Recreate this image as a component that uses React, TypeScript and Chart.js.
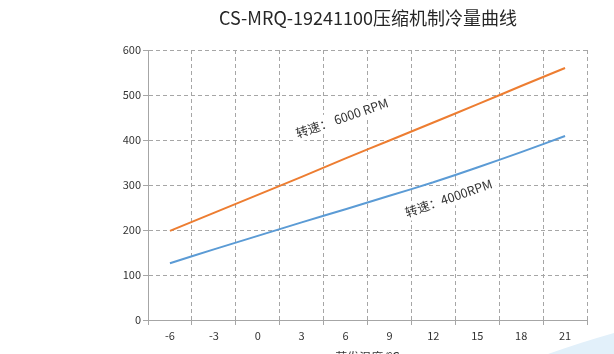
import React, { useEffect, useRef } from 'react';
import { Chart, registerables } from 'chart.js';

Chart.register(...registerables);

const categories = ['-6', '-3', '0', '3', '6', '9', '12', '15', '18', '21'];
const rpm6000 = [198, 238, 278, 318, 359, 399, 439, 479, 520, 560];
const rpm4000 = [126, 157, 187, 217, 246, 276, 306, 339, 373, 409];
const yTickValues = [0, 100, 200, 300, 400, 500, 600];
const chartTitle = 'CS-MRQ-19241100压缩机制冷量曲线';
const xAxisTitle = '蒸发温度/℃';
const labelTexts = ['转速： 6000 RPM', '转速：4000RPM'];
const labelCategoryPos = [3.92, 6.35];
const labelValuePos = [449, 271];

const FONT = '"Noto Sans CJK SC", "Noto Sans", sans-serif';

const decorPlugin = {
  id: 'decor',
  beforeDraw(chart: any) {
    const ctx = chart.ctx;
    ctx.save();
    ctx.fillStyle = '#ffffff';
    ctx.fillRect(0, 0, chart.width, chart.height);
    ctx.fillStyle = '#e2f0fa';
    ctx.beginPath();
    ctx.moveTo(548, 354);
    ctx.quadraticCurveTo(582, 342, 614, 333);
    ctx.lineTo(614, 372);
    ctx.lineTo(548, 372);
    ctx.closePath();
    ctx.fill();
    ctx.restore();
  },
  afterDraw(chart: any) {
    const ctx = chart.ctx;
    const xs = chart.scales.x;
    const ys = chart.scales.y;
    ctx.save();
    ctx.font = `18px ${FONT}`;
    ctx.fillStyle = '#262626';
    ctx.textAlign = 'center';
    ctx.textBaseline = 'middle';
    ctx.fillText(chartTitle, 368, 18);
    ctx.font = `12.5px ${FONT}`;
    labelTexts.forEach((t, i) => {
      const px = xs.getPixelForValue(labelCategoryPos[i]);
      const py = ys.getPixelForValue(labelValuePos[i]);
      ctx.save();
      ctx.translate(px, py);
      ctx.rotate((-19 * Math.PI) / 180);
      const w = ctx.measureText(t).width;
      ctx.fillStyle = '#ffffff';
      ctx.fillRect(-w / 2 - 3, -9, w + 6, 18);
      ctx.fillStyle = '#333333';
      ctx.textAlign = 'center';
      ctx.textBaseline = 'middle';
      ctx.fillText(t, 0, 0);
      ctx.restore();
    });
    ctx.restore();
  },
};

export default function App() {
  const ref = useRef<HTMLCanvasElement>(null);
  useEffect(() => {
    document.body.style.margin = '0';
    const canvas = ref.current;
    if (!canvas) return;
    const gridColor = '#a6a6a6';
    const chart = new Chart(canvas, {
      type: 'line',
      data: {
        labels: categories,
        datasets: [
          {
            label: '6000RPM',
            data: rpm6000,
            borderColor: '#ED7D31',
            backgroundColor: '#ED7D31',
            borderWidth: 2,
            pointRadius: 0,
            tension: 0.2,
          },
          {
            label: '4000RPM',
            data: rpm4000,
            borderColor: '#5B9BD5',
            backgroundColor: '#5B9BD5',
            borderWidth: 2,
            pointRadius: 0,
            tension: 0.2,
          },
        ],
      },
      options: {
        responsive: false,
        animation: false,
        devicePixelRatio: 1,
        layout: { padding: { top: 50, right: 27, left: 0, bottom: 0 } },
        plugins: {
          legend: { display: false },
          title: { display: false },
          tooltip: { enabled: false },
        },
        scales: {
          x: {
            type: 'category',
            offset: true,
            grid: {
              offset: true,
              color: gridColor,
              drawTicks: true,
              tickLength: 5,
              tickColor: gridColor,
              tickBorderDash: [],
            } as any,
            border: { display: true, color: gridColor, width: 1, dash: [4, 3] },
            ticks: {
              color: '#333333',
              font: { family: FONT, size: 11 },
              padding: 4,
              maxRotation: 0,
              autoSkip: false,
            },
            title: {
              display: true,
              text: xAxisTitle,
              color: '#333333',
              font: { family: FONT, size: 12 },
              padding: { top: 4, bottom: 7 },
            },
            afterFit(scale: any) {
              scale.height = 52;
            },
          },
          y: {
            min: 0,
            max: 600,
            afterBuildTicks(scale: any) {
              scale.ticks = yTickValues.map((v) => ({ value: v }));
            },
            grid: {
              color: gridColor,
              drawTicks: true,
              tickLength: 5,
              tickColor: gridColor,
              tickBorderDash: [],
            } as any,
            border: { display: true, color: gridColor, width: 1, dash: [4, 3] },
            ticks: {
              color: '#333333',
              font: { family: FONT, size: 11 },
              padding: 2,
            },
            afterFit(scale: any) {
              scale.width = 148;
            },
          },
        },
      },
      plugins: [decorPlugin],
    });
    return () => chart.destroy();
  }, []);
  return (
    <div style={{ width: 614, height: 354, overflow: 'hidden', position: 'relative' }}>
      <canvas ref={ref} width={614} height={372} style={{ display: 'block' }} />
    </div>
  );
}
